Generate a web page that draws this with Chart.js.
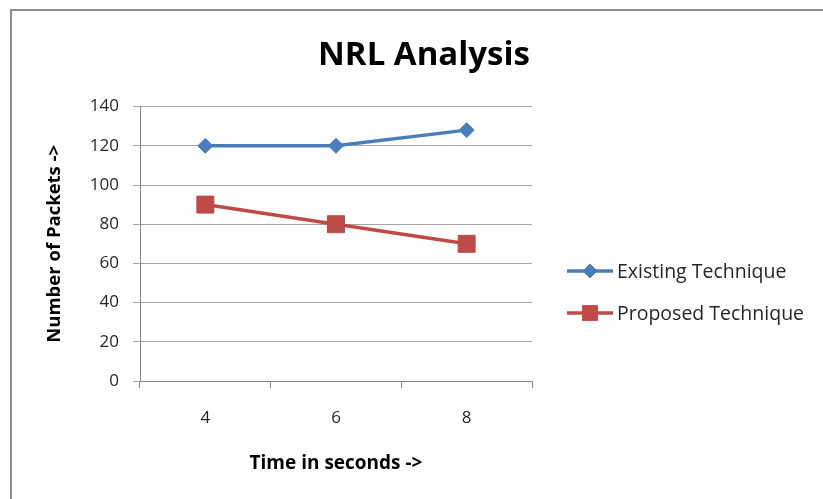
<!DOCTYPE html>
<html>
<head>
<meta charset="utf-8">
<title>NRL Analysis</title>
<script src="https://cdn.jsdelivr.net/npm/chart.js@4.4.1/dist/chart.umd.min.js"></script>
<style>
  html, body { margin: 0; padding: 0; background: #ffffff; overflow: hidden; }
  #wrap { position: relative; width: 823px; height: 499px; }
  #frame { position: absolute; left: 10px; top: 9px; width: 900px; height: 600px;
           border: 2px solid #8c8c8c; box-sizing: border-box; }
  #c { position: absolute; left: 0; top: 0; }
</style>
</head>
<body>
<div id="wrap">
  <div id="frame"></div>
  <canvas id="c" width="823" height="499"></canvas>
</div>
<script>
// Sampling times (seconds) and packet counts per technique
const timeSeconds = ['4', '6', '8'];
const existingTechnique = [120, 120, 128];
const proposedTechnique = [90, 80, 70];
const packetTicks = [0, 20, 40, 60, 80, 100, 120, 140];

const FONT = "'Open Sans', 'Noto Sans', sans-serif";
const TEXT = '#262626';
const AXIS = '#868686';
const GRID = '#a6a6a6';

// Small marker renderer for the side legend
function drawMarker(ctx, style, radius, x, y, fill) {
  ctx.save();
  ctx.fillStyle = fill;
  ctx.strokeStyle = fill;
  ctx.lineWidth = 1;
  ctx.beginPath();
  if (style === 'rectRot') {
    ctx.moveTo(x, y - radius);
    ctx.lineTo(x + radius, y);
    ctx.lineTo(x, y + radius);
    ctx.lineTo(x - radius, y);
  } else {
    const s = radius * Math.SQRT1_2;
    ctx.rect(x - s, y - s, 2 * s, 2 * s);
  }
  ctx.closePath();
  ctx.fill();
  ctx.stroke();
  ctx.restore();
}

// Legend on the right: line segment with marker, then the series name
const sideLegend = {
  id: 'sideLegend',
  afterDraw(chart) {
    const ctx = chart.ctx;
    const area = chart.chartArea;
    const x0 = area.right + 35;
    const x1 = x0 + 46;
    const firstY = 271;
    const gap = 42;
    chart.data.datasets.forEach((ds, i) => {
      const y = firstY + i * gap;
      ctx.save();
      ctx.strokeStyle = ds.borderColor;
      ctx.lineWidth = ds.borderWidth;
      ctx.beginPath();
      ctx.moveTo(x0, y);
      ctx.lineTo(x1, y);
      ctx.stroke();
      drawMarker(ctx, ds.pointStyle, ds.legendMarker, (x0 + x1) / 2, y, ds.pointBackgroundColor);
      ctx.fillStyle = TEXT;
      ctx.font = "19.5px " + FONT;
      ctx.textBaseline = 'middle';
      ctx.textAlign = 'left';
      ctx.fillText(ds.label, x1 + 4, y + 1);
      ctx.restore();
    });
  }
};

new Chart(document.getElementById('c'), {
  type: 'line',
  data: {
    labels: timeSeconds,
    datasets: [
      {
        label: 'Existing Technique',
        data: existingTechnique,
        borderColor: '#4a7ebb',
        backgroundColor: '#4a7ebb',
        pointBackgroundColor: '#4a7ebb',
        pointBorderColor: '#4a7ebb',
        borderWidth: 3.5,
        pointStyle: 'rectRot',
        pointRadius: 7.5,
        pointBorderWidth: 1,
        legendMarker: 7,
        tension: 0
      },
      {
        label: 'Proposed Technique',
        data: proposedTechnique,
        borderColor: '#be4b48',
        backgroundColor: '#be4b48',
        pointBackgroundColor: '#be4b48',
        pointBorderColor: '#be4b48',
        borderWidth: 3.5,
        pointStyle: 'rect',
        pointRadius: 12,
        pointBorderWidth: 1,
        legendMarker: 10.5,
        tension: 0
      }
    ]
  },
  options: {
    responsive: false,
    animation: false,
    devicePixelRatio: 1,
    layout: { padding: { left: 40, right: 15, top: 0, bottom: 0 } },
    plugins: {
      legend: { display: false },
      tooltip: { enabled: false },
      title: {
        display: true,
        text: 'NRL Analysis',
        color: '#000000',
        font: { family: FONT, size: 33, weight: 'bold', lineHeight: 1.2 },
        padding: { top: 36, bottom: 31 }
      }
    },
    scales: {
      x: {
        type: 'category',
        offset: true,
        grid: { offset: true, drawOnChartArea: false, drawTicks: true, tickLength: 7, color: AXIS },
        border: { color: AXIS, width: 1 },
        ticks: { color: TEXT, font: { family: FONT, size: 17 }, padding: 20 },
        title: {
          display: true,
          text: 'Time in seconds ->',
          color: '#000000',
          font: { family: FONT, size: 19, weight: 'bold', lineHeight: 1.2 },
          padding: { top: 0, bottom: 24 }
        },
        afterFit(scale) { scale.height = 118; }
      },
      y: {
        min: 0,
        max: 140,
        afterBuildTicks(scale) { scale.ticks = packetTicks.map(v => ({ value: v })); },
        grid: { color: GRID, tickLength: 7, drawTicks: true },
        border: { color: AXIS, width: 1 },
        ticks: { color: TEXT, font: { family: FONT, size: 17 }, padding: 14 },
        title: {
          display: true,
          text: 'Number of Packets ->',
          color: '#000000',
          font: { family: FONT, size: 18.5, weight: 'bold', lineHeight: 1.2 },
          padding: { top: 4, bottom: 0 }
        },
        afterFit(scale) { scale.width = 100; }
      },
      // right-hand area reserved for the legend
      legendSpace: {
        type: 'linear',
        position: 'right',
        display: true,
        grid: { display: false, drawTicks: false },
        border: { display: false },
        ticks: { display: false },
        afterFit(scale) { scale.width = 276; }
      }
    }
  },
  plugins: [sideLegend]
});
</script>
</body>
</html>
